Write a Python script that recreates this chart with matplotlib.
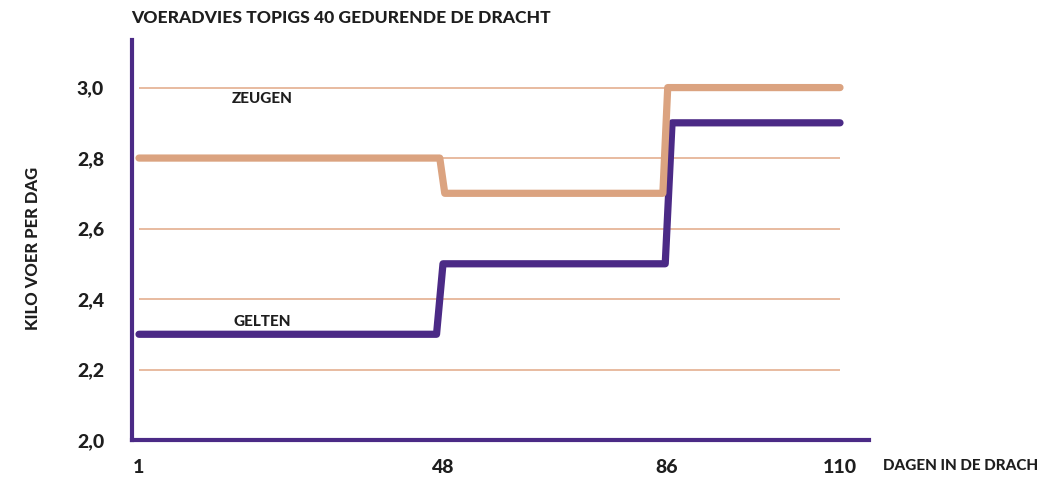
import numpy as np
import matplotlib
matplotlib.use("Agg")
import matplotlib.pyplot as plt

# ---- data ----
title = "VOERADVIES TOPIGS 40 GEDURENDE DE DRACHT"
zeugen_days = [1, 47.5, 48.3, 85.3, 86.1, 110]
zeugen_kg = [2.8, 2.8, 2.7, 2.7, 3.0, 3.0]
gelten_days = [1, 47.0, 48.0, 85.7, 86.7, 110]
gelten_kg = [2.3, 2.3, 2.5, 2.5, 2.9, 2.9]
x_ticks = [1, 48, 86, 110]
x_ticklabels = ["1", "48", "86", "110"]
y_ticks = [2.0, 2.2, 2.4, 2.6, 2.8, 3.0]
y_ticklabels = ["2,0", "2,2", "2,4", "2,6", "2,8", "3,0"]
grid_vals = [2.2, 2.4, 2.6, 2.8, 3.0]

PURPLE = "#4B2A86"
TAN = "#DBA380"
GRID = "#E2A886"
TXT = "#1E1E1E"

# piecewise (non-uniform) x axis as drawn in the original
knot_day = np.array([-0.1, 1, 48, 86, 110, 114.1])
knot_pos = np.array([132, 139, 443, 667, 840, 869], dtype=float)
def fwd(x):
    return np.interp(x, knot_day, knot_pos)
def inv(p):
    return np.interp(p, knot_pos, knot_day)

plt.rcParams['font.family'] = ['Lato', 'DejaVu Sans']

W, H = 1040, 479
fig = plt.figure(figsize=(W / 100, H / 100), dpi=100)
ax = fig.add_axes([132 / W, (H - 440) / H, (869 - 132) / W, 400 / H])
ax.set_xscale('function', functions=(fwd, inv))
ax.set_xlim(-0.1, 114.1)
ax.set_ylim(2.0, 3.135)

for g in grid_vals:
    ax.plot([x_ticks[0], x_ticks[-1]], [g, g], color=GRID, lw=1.1, zorder=1,
            solid_capstyle='butt')

ax.plot(gelten_days, gelten_kg, color=PURPLE, lw=5.2, solid_capstyle='round',
        solid_joinstyle='round', zorder=3)
ax.plot(zeugen_days, zeugen_kg, color=TAN, lw=5.2, solid_capstyle='round',
        solid_joinstyle='round', zorder=4)

for s in ['top', 'right']:
    ax.spines[s].set_visible(False)
for s in ['left', 'bottom']:
    ax.spines[s].set_color(PURPLE)
    ax.spines[s].set_linewidth(3)

ax.set_xticks(x_ticks)
ax.set_xticklabels(x_ticklabels)
ax.set_yticks(y_ticks)
ax.set_yticklabels(y_ticklabels)
ax.tick_params(axis='both', length=0, labelsize=14, labelcolor=TXT)
ax.tick_params(axis='y', pad=20)
ax.tick_params(axis='x', pad=14)
for lab in ax.get_xticklabels() + ax.get_yticklabels():
    lab.set_fontweight('black')

ax.text(20, 2.969, "ZEUGEN", ha='center', va='center', fontsize=11,
        fontweight='black', color=TXT)
ax.text(20, 2.335, "GELTEN", ha='center', va='center', fontsize=11,
        fontweight='black', color=TXT)

fig.text(131 / W, 1 - 18 / H, title, ha='left', va='center', fontsize=12.6,
         fontweight='black', color=TXT)
fig.text(33 / W, 1 - 248 / H, "KILO VOER PER DAG", rotation=90, ha='center',
         va='center', fontsize=12, fontweight='black', color=TXT)
fig.text(883 / W, 1 - 466 / H, "DAGEN IN DE DRACH", ha='left', va='center',
         fontsize=11, fontweight='black', color=TXT)

fig.savefig("out.png", dpi=100)
